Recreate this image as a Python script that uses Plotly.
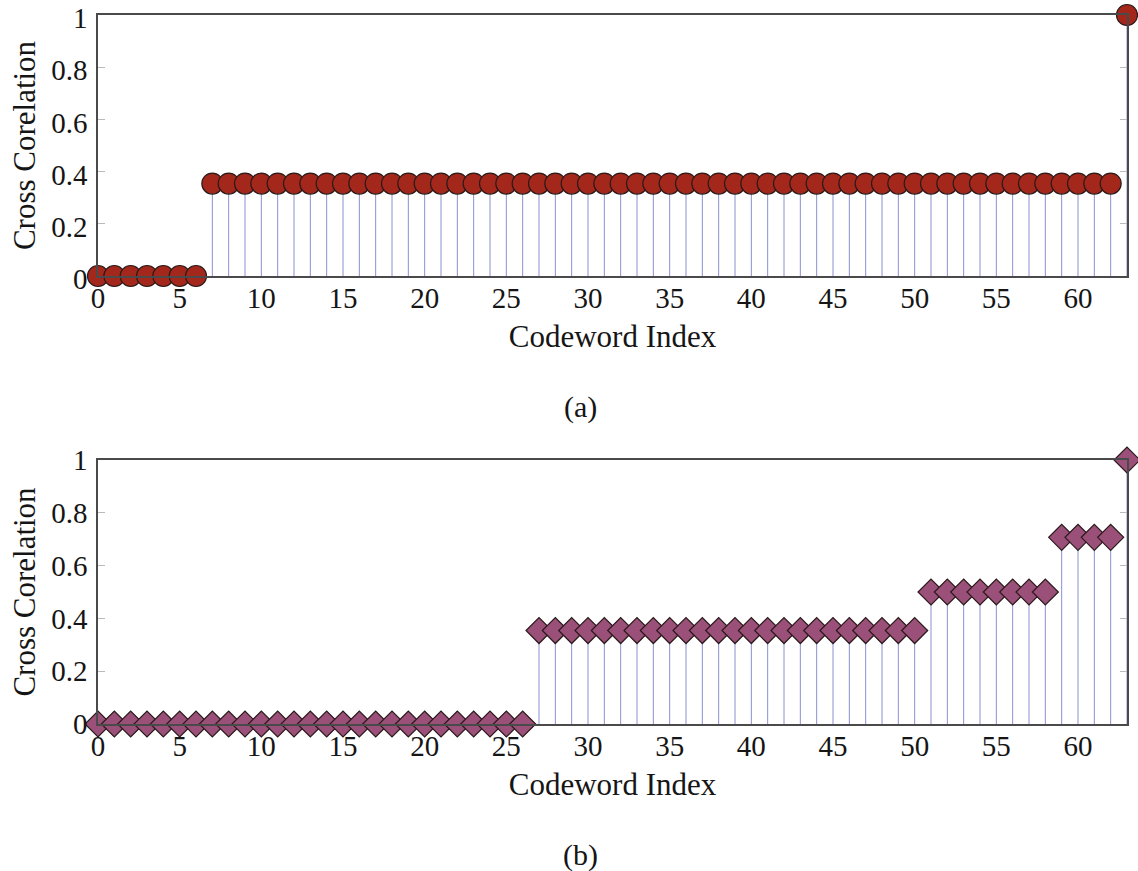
import plotly.graph_objects as go

# Codeword indices and cross-correlation values for the two codebooks
codeword_index = list(range(64))
corr_a = [0.0] * 7 + [0.354] * 56 + [1.0]
corr_b = [0.0] * 27 + [0.354] * 24 + [0.5] * 8 + [0.707] * 4 + [1.0]

x_ticks = [0, 5, 10, 15, 20, 25, 30, 35, 40, 45, 50, 55, 60]
y_ticks = [0, 0.2, 0.4, 0.6, 0.8, 1]
y_tick_text = ["0", "0.2", "0.4", "0.6", "0.8", "1"]

FONT = "Liberation Serif"
STEM_COLOR = "#8b90d2"
AXIS_COLOR = "#4a4a4a"
TEXT_COLOR = "#151515"


def stem_coords(xs, ys):
    sx, sy = [], []
    for xv, yv in zip(xs, ys):
        if yv != 0:
            sx += [xv, xv, None]
            sy += [0, yv, None]
    return sx, sy


fig = go.Figure()

panels = [
    (corr_a, "x", "y", "circle", "#a3281b", 21),
    (corr_b, "x2", "y2", "diamond", "#9a5078", 20),
]
for vals, xa, ya, sym, col, size in panels:
    sx, sy = stem_coords(codeword_index, vals)
    fig.add_trace(go.Scatter(
        x=sx, y=sy, mode="lines", xaxis=xa, yaxis=ya,
        line=dict(color=STEM_COLOR, width=1), hoverinfo="skip",
        showlegend=False, cliponaxis=False,
    ))
    fig.add_trace(go.Scatter(
        x=codeword_index, y=vals, mode="markers", xaxis=xa, yaxis=ya,
        marker=dict(symbol=sym, size=size, color=col,
                    line=dict(color="#2a1a1a", width=1.2)),
        showlegend=False, cliponaxis=False,
    ))

xdom = [98 / 1138, 1127 / 1138]
ydom_a = [1 - 276 / 871, 1 - 15 / 871]
ydom_b = [1 - 724 / 871, 1 - 460 / 871]

xcommon = dict(
    range=[0, 63], domain=xdom, tickmode="array", tickvals=x_ticks,
    ticks="", showgrid=False, zeroline=False, showline=True,
    linecolor=AXIS_COLOR, linewidth=1.5, mirror=True, automargin=False,
    ticklabelstandoff=-5, ticklabeloverflow="allow",
    tickfont=dict(family=FONT, size=29, color=TEXT_COLOR),
    title=dict(text="Codeword Index", font=dict(family=FONT, size=31, color=TEXT_COLOR), standoff=13),
)
ycommon = dict(
    range=[0, 1], tickmode="array", tickvals=y_ticks, ticktext=y_tick_text,
    ticks="inside", ticklen=7, tickcolor="#bbbbbb", tickwidth=1,
    showgrid=False, zeroline=False, showline=True,
    linecolor=AXIS_COLOR, linewidth=1.5, mirror="ticks", automargin=False,
    ticklabelstandoff=3, ticklabeloverflow="allow",
    tickfont=dict(family=FONT, size=29, color=TEXT_COLOR),
    title=dict(text="Cross Corelation", font=dict(family=FONT, size=31, color=TEXT_COLOR), standoff=6),
)

fig.update_layout(
    width=1138, height=871,
    margin=dict(l=0, r=0, t=0, b=0),
    paper_bgcolor="white", plot_bgcolor="white",
    xaxis=dict(**xcommon, anchor="y"),
    yaxis=dict(**ycommon, domain=ydom_a, anchor="x", ticklabelshift=3),
    xaxis2=dict(**xcommon, anchor="y2"),
    yaxis2=dict(**ycommon, domain=ydom_b, anchor="x2"),
    annotations=[
        dict(text="(a)", x=580 / 1138, y=1 - 407 / 871, xref="paper", yref="paper",
             xanchor="center", yanchor="middle", showarrow=False,
             font=dict(family=FONT, size=30, color=TEXT_COLOR)),
        dict(text="(b)", x=580 / 1138, y=1 - 855 / 871, xref="paper", yref="paper",
             xanchor="center", yanchor="middle", showarrow=False,
             font=dict(family=FONT, size=30, color=TEXT_COLOR)),
    ],
)

fig.write_html("out.html")
